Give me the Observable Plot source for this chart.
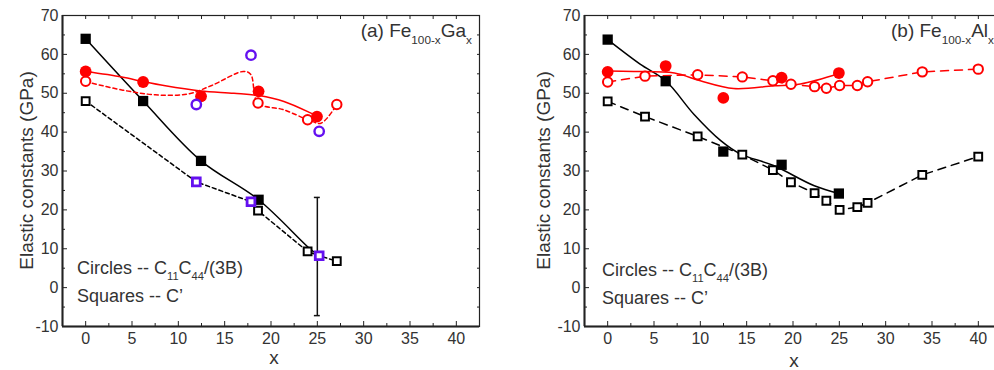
<!DOCTYPE html>
<html><head><meta charset="utf-8">
<script src="https://cdn.jsdelivr.net/npm/d3@7"></script>
<script src="https://cdn.jsdelivr.net/npm/@observablehq/plot@0.6"></script>
<style>
html,body{margin:0;padding:0;background:#fff;overflow:hidden;}
#wrap{position:relative;width:994px;height:370px;overflow:hidden;}
#wrap svg{position:absolute;top:0;}
</style></head><body><div id="wrap"></div>
<script>
// ---------- data: (a) Fe100-xGax ----------
const gaFilledX = [0, 6.2, 12.45, 18.66, 24.96];
const gaFilledSqY = [64.0, 48.0, 32.6, 22.6];
const gaFilledCircY = [55.6, 52.9, 49.2, 50.5, 44.0];
const gaOpenX = [0, 18.6, 23.95, 27.1];
const gaOpenSqY = [48.0, 19.8, 9.3, 6.8];
const gaOpenCircY = [53.1, 47.5, 43.2, 47.1];
const gaBlueX = [11.94, 17.84, 25.2];
const gaBlueSqY = [27.2, 22.1, 8.2];
const gaBlueCircY = [47.1, 59.8, 40.2];
const gaErrX = [25.0], gaErrLo = [-7.2], gaErrHi = [23.2];
// fitted curves
const gaSolidBlackX = [0, 6.2, 12.45, 18.66, 24.2, 25.2];
const gaSolidBlackY = [64.0, 48.0, 32.6, 22.6, 10.0, 8.2];
const gaDashBlackX = [0, 11.94, 17.84, 18.6, 23.95, 25.2, 27.1];
const gaDashBlackY = [48.0, 27.2, 22.1, 19.8, 9.3, 8.2, 6.8];
const gaSolidRedX = [0, 3.9, 6.2, 8.6, 12.4, 16, 18.7, 21.4, 24.2, 25];
const gaSolidRedY = [55.6, 54.2, 53.0, 51.9, 50.6, 50.0, 49.4, 47.9, 45.0, 44.0];
const gaDashRedX = [0, 4, 7.5, 11, 13.6, 17, 17.8, 18.6, 21.3, 24, 25.4, 27.1];
const gaDashRedY = [53.0, 50.8, 49.6, 49.8, 52.0, 55.6, 54.9, 47.5, 45.8, 43.2, 42.3, 47.1];

// ---------- data: (b) Fe100-xAlx ----------
const alFilledX = [0, 6.26, 12.48, 18.77, 24.95];
const alFilledSqY = [63.8, 53.1, 35.0, 31.6, 24.2];
const alFilledCircY = [55.5, 57.0, 48.8, 54.0, 55.2];
const alOpenX = [0, 4.03, 9.71, 14.53, 17.83, 19.78, 22.33, 23.6, 25.03, 26.94, 28.05, 33.95, 39.99];
const alOpenSqY = [47.9, 44.0, 38.9, 34.2, 30.25, 27.1, 24.3, 22.35, 20.0, 20.7, 21.8, 29.0, 33.7];
const alOpenCircY = [52.9, 54.4, 54.75, 54.2, 53.2, 52.3, 51.7, 51.3, 52.0, 52.0, 52.95, 55.5, 56.2];
const alSolidBlackX = [0, 3.5, 6.26, 9.3, 12.2, 14.3, 17.9, 22.3, 24.95];
const alSolidBlackY = [63.8, 57.5, 53.2, 44.6, 37.8, 34.4, 31.4, 26.2, 24.2];
const alSolidRedX = [0, 2.8, 7.2, 10, 13.6, 17.9, 20.8, 25];
const alSolidRedY = [55.7, 55.6, 55.2, 53.2, 51.2, 51.9, 52.4, 55.1];

// ---------- axes ----------
const xDomain = [-2.5, 42.5];
const yDomain = [-10, 70];
const xMajor = [0, 5, 10, 15, 20, 25, 30, 35, 40];
const xMinor = [2.5, 7.5, 12.5, 17.5, 22.5, 27.5, 32.5, 37.5];
const yMajor = [-10, 0, 10, 20, 30, 40, 50, 60, 70];
const yMinor = [-5, 5, 15, 25, 35, 45, 55, 65];

const FONT = "'Liberation Sans', Arial, sans-serif";
const RED = "#ff0000", BLUE = "#6410f0", BLACK = "#000";
const fmt = d => String(d);

const pts = (xs, ys) => xs.map((x, i) => ({x, y: ys[i]}));

function frameMarks() {
  return [
    Plot.axisY(yMajor, {anchor: "left", tickSize: 0, tickPadding: 4, label: null, fontSize: 16, tickFormat: fmt}),
    Plot.axisX(xMajor, {anchor: "bottom", tickSize: 0, tickPadding: 6, label: null, fontSize: 16, tickFormat: fmt}),
    Plot.axisY(yMajor, {anchor: "left", tickSize: -5, fill: "none", label: null, stroke: "#222"}),
    Plot.axisY(yMinor, {anchor: "left", tickSize: -3, fill: "none", label: null, stroke: "#222"}),
    Plot.axisY(yMajor.concat(yMinor), {anchor: "right", tickSize: -3, fill: "none", label: null, stroke: "#222"}),
    Plot.axisX(xMajor, {anchor: "bottom", tickSize: -5, fill: "none", label: null, stroke: "#222"}),
    Plot.axisX(xMinor, {anchor: "bottom", tickSize: -3, fill: "none", label: null, stroke: "#222"}),
    Plot.axisX(xMajor.concat(xMinor), {anchor: "top", tickSize: -3, fill: "none", label: null, stroke: "#222"}),
    Plot.frame({stroke: "#222", strokeWidth: 1.2}),
    Plot.ruleX([xDomain[0]], {stroke: "#222", strokeWidth: 2}),
    Plot.ruleY([yDomain[0]], {stroke: "#222", strokeWidth: 2})
  ];
}

function makePlot(width, marginLeft, marginRight, marks) {
  return Plot.plot({
    width, height: 370, marginLeft, marginRight, marginTop: 15, marginBottom: 44,
    style: {fontFamily: FONT, fontSize: "16px", color: "#333", background: "transparent", overflow: "visible"},
    x: {domain: xDomain, label: null},
    y: {domain: yDomain, label: null},
    marks: [...marks, ...frameMarks()]
  });
}

const sqFilled = (d, fill) => Plot.dot(d, {x: "x", y: "y", symbol: "square", r: 5.8, fill, stroke: "none"});
const sqOpen = (d, stroke, sw = 2) => Plot.dot(d, {x: "x", y: "y", symbol: "square", r: 4.4, fill: "white", stroke, strokeWidth: sw});
const ciFilled = (d, fill) => Plot.dot(d, {x: "x", y: "y", symbol: "circle", r: 5.9, fill, stroke: "none"});
const ciOpen = (d, stroke, sw = 2) => Plot.dot(d, {x: "x", y: "y", symbol: "circle", r: 4.7, fill: "white", stroke, strokeWidth: sw});

// ---------- panel (a) ----------
const errData = gaErrX.map((x, i) => ({x, lo: gaErrLo[i], hi: gaErrHi[i]}));
const left = makePlot(497, 62, 18, [
  Plot.line(pts(gaSolidBlackX, gaSolidBlackY), {x: "x", y: "y", curve: "catmull-rom", stroke: BLACK, strokeWidth: 1.5}),
  Plot.line(pts(gaDashBlackX, gaDashBlackY), {x: "x", y: "y", curve: "linear", stroke: BLACK, strokeWidth: 1.5, strokeDasharray: "4,3"}),
  Plot.line(pts(gaSolidRedX, gaSolidRedY), {x: "x", y: "y", curve: "catmull-rom", stroke: RED, strokeWidth: 1.5}),
  Plot.line(pts(gaDashRedX, gaDashRedY), {x: "x", y: "y", curve: "catmull-rom", stroke: RED, strokeWidth: 1.5, strokeDasharray: "4,3"}),
  Plot.ruleX(errData, {x: "x", y1: "lo", y2: "hi", stroke: "#111", strokeWidth: 1.5}),
  Plot.ruleY(errData, {y: "lo", x1: d => d.x - 0.32, x2: d => d.x + 0.32, stroke: "#111", strokeWidth: 1.5}),
  Plot.ruleY(errData, {y: "hi", x1: d => d.x - 0.32, x2: d => d.x + 0.32, stroke: "#111", strokeWidth: 1.5}),
  ciOpen(pts(gaOpenX, gaOpenCircY), RED),
  ciFilled(pts(gaFilledX, gaFilledCircY), RED),
  sqFilled(pts(gaFilledX.slice(0, 4), gaFilledSqY), BLACK),
  sqOpen(pts(gaOpenX, gaOpenSqY), BLACK),
  ciOpen(pts(gaBlueX, gaBlueCircY), BLUE, 2.4),
  sqOpen(pts(gaBlueX, gaBlueSqY), BLUE, 2.8)
]);
left.style.left = "0px";

// ---------- panel (b) ----------
const right = makePlot(510, 84, 9, [
  Plot.line(pts(alSolidBlackX, alSolidBlackY), {x: "x", y: "y", curve: "catmull-rom", stroke: BLACK, strokeWidth: 1.5}),
  Plot.line(pts(alOpenX, alOpenSqY), {x: "x", y: "y", curve: "linear", stroke: BLACK, strokeWidth: 1.5, strokeDasharray: "8,6"}),
  Plot.line(pts(alSolidRedX, alSolidRedY), {x: "x", y: "y", curve: "catmull-rom", stroke: RED, strokeWidth: 1.5}),
  Plot.line(pts(alOpenX, alOpenCircY), {x: "x", y: "y", curve: "linear", stroke: RED, strokeWidth: 1.5, strokeDasharray: "8,6"}),
  ciOpen(pts(alOpenX, alOpenCircY), RED),
  ciFilled(pts(alFilledX, alFilledCircY), RED),
  sqOpen(pts(alOpenX, alOpenSqY), BLACK),
  sqFilled(pts(alFilledX, alFilledSqY), BLACK)
]);
right.style.left = "500px";

const wrap = document.getElementById("wrap");
wrap.appendChild(left);
wrap.appendChild(right);

// ---------- text overlay ----------
const ov = d3.create("svg").attr("width", 994).attr("height", 370)
  .style("left", "0px").style("font-family", FONT).attr("fill", "#333");
function rich(x, y, parts, size, anchor = "start") {
  const t = ov.append("text").attr("x", x).attr("y", y).attr("font-size", size).attr("text-anchor", anchor);
  let shift = 0;
  for (const [s, sub] of parts) {
    const target = sub ? Math.round(size * 0.36) : 0;
    t.append("tspan").text(s).attr("font-size", sub ? size * 0.62 : size).attr("dy", target - shift);
    shift = target;
  }
}
const legendC = [["Circles -- C"], ["11", true], ["C"], ["44", true], ["/(3B)"]];
const legendS = [["Squares -- C\u2019"]];
rich(472, 37, [["(a) Fe"], ["100-x", true], ["Ga"], ["x", true]], 19, "end");
rich(891, 37, [["(b) Fe"], ["100-x", true], ["Al"], ["x", true]], 19, "start");
rich(77, 274, legendC, 18);
rich(77, 302, legendS, 18);
rich(602, 276, legendC, 18);
rich(602, 304, legendS, 18);
rich(274, 364, [["x"]], 19, "middle");
rich(794, 367, [["x"]], 19, "middle");
ov.append("text").attr("transform", "translate(33,170.5) rotate(-90)").attr("text-anchor", "middle").attr("font-size", 19).text("Elastic constants (GPa)");
ov.append("text").attr("transform", "translate(550,170.5) rotate(-90)").attr("text-anchor", "middle").attr("font-size", 19).text("Elastic constants (GPa)");
wrap.appendChild(ov.node());
</script></body></html>
